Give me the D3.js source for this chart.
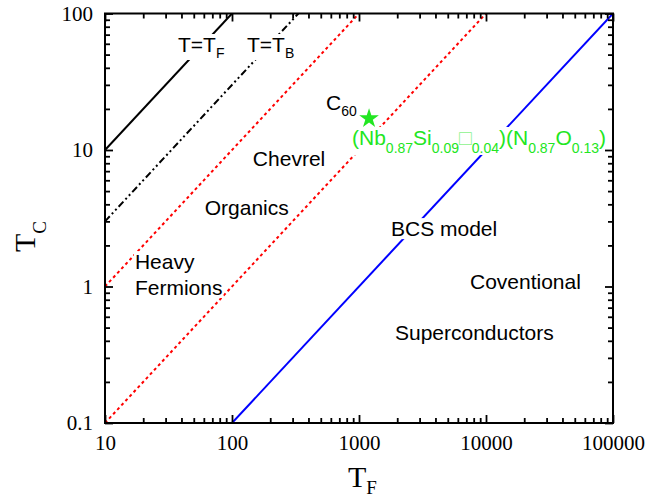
<!DOCTYPE html>
<html>
<head>
<meta charset="utf-8">
<script src="https://cdn.jsdelivr.net/npm/d3@7"></script>
<style>
  body { margin: 0; background: #fff; }
  .tick text { font-family: "Liberation Serif", serif; font-size: 21px; fill: #000; }
  .ann { font-family: "Liberation Sans", Arial, sans-serif; font-size: 21px; fill: #000; }
</style>
</head>
<body>
<div id="chart"></div>
<script>
// axis ranges and ticks
var xDomain = [10, 100000];
var yDomain = [0.1, 100];
var xMajor = [10, 100, 1000, 10000, 100000];
var yMajor = [0.1, 1, 10, 100];

// boundary lines, [T_F, T_C] end points
var fermiLine = [[10, 10], [100, 100]];
var boseLine = [[10, 3], [333.3, 100]];
var redLine1 = [[10, 1], [1000, 100]];
var redLine2 = [[10, 0.1], [10000, 100]];
var bcsLine = [[100, 0.1], [100000, 100]];

// the marked compound
var starPoint = [1200, 17];

// region labels: text, T_F, T_C (baseline anchor)
var regionLabels = [
  ["Chevrel", 146, 7.6],
  ["Organics", 61, 3.34],
  ["BCS model", 1786, 2.34],
  ["Heavy", 17.2, 1.34],
  ["Fermions", 17.2, 0.866],
  ["Coventional", 7480, 0.96],
  ["Superconductors", 1920, 0.405]
];

var width = 661, height = 498;
var mLeft = 105, mRight = 613, mTop = 13.5, mBottom = 423;

var svg = d3.select("#chart").append("svg")
    .attr("width", width)
    .attr("height", height);

var x = d3.scaleLog().domain(xDomain).range([mLeft, mRight]);
var y = d3.scaleLog().domain(yDomain).range([mBottom, mTop]);

function minors(dom) {
  var out = [];
  for (var d = dom[0]; d < dom[1]; d *= 10) {
    for (var k = 2; k <= 9; k++) out.push(d * k);
  }
  return out;
}

svg.append("clipPath").attr("id", "clip")
  .append("rect")
  .attr("x", mLeft).attr("y", mTop)
  .attr("width", mRight - mLeft).attr("height", mBottom - mTop);

var line = d3.line()
    .x(function(d) { return x(d[0]); })
    .y(function(d) { return y(d[1]); });

var plot = svg.append("g").attr("clip-path", "url(#clip)");

plot.append("path").datum(fermiLine).attr("d", line)
    .attr("fill", "none").attr("stroke", "#000").attr("stroke-width", 2);
plot.append("path").datum(boseLine).attr("d", line)
    .attr("fill", "none").attr("stroke", "#000").attr("stroke-width", 2)
    .attr("stroke-dasharray", "7,3,2,3,2,3");
plot.append("path").datum(redLine1).attr("d", line)
    .attr("fill", "none").attr("stroke", "#ff0000").attr("stroke-width", 2)
    .attr("stroke-dasharray", "3,3");
plot.append("path").datum(redLine2).attr("d", line)
    .attr("fill", "none").attr("stroke", "#ff0000").attr("stroke-width", 2)
    .attr("stroke-dasharray", "3,3");
plot.append("path").datum(bcsLine).attr("d", line)
    .attr("fill", "none").attr("stroke", "#0000ff").attr("stroke-width", 2);

// labels sit on white boxes that knock the lines out
var bgLayer = svg.append("g");
var labelLayer = svg.append("g");

function knockout(t) {
  var b = t.node().getBBox();
  bgLayer.append("rect")
    .attr("x", b.x - 1).attr("y", b.y + 1)
    .attr("width", b.width + 2).attr("height", b.height - 2)
    .attr("fill", "#fff");
}

function subLabel(px, py, main, sub) {
  var t = labelLayer.append("text").attr("class", "ann").attr("x", px).attr("y", py);
  t.append("tspan").text(main);
  t.append("tspan").attr("dy", 6).style("font-size", "14px").text(sub);
  knockout(t);
  return t;
}
subLabel(178, 52, "T=T", "F");
subLabel(247, 52, "T=T", "B");
subLabel(326, 110, "C", "60");

labelLayer.selectAll(".region").data(regionLabels).enter()
  .append("text")
  .attr("class", "ann region")
  .attr("x", function(d) { return x(d[1]); })
  .attr("y", function(d) { return y(d[2]); })
  .text(function(d) { return d[0]; })
  .each(function() { knockout(d3.select(this)); });

// star + formula
var green = "#22e622";
labelLayer.append("path")
  .attr("d", d3.symbol(d3.symbolStar).size(120)())
  .attr("transform", "translate(" + x(starPoint[0]) + "," + y(starPoint[1]) + ")")
  .attr("fill", green);

var parts = [
  ["(Nb", false], ["0.87", true], ["Si", false], ["0.09", true],
  ["\u25A1", false], ["0.04", true], [")(N", false], ["0.87", true],
  ["O", false], ["0.13", true], [")", false]
];
var ft = labelLayer.append("text").attr("class", "ann")
  .attr("x", 352).attr("y", 145).style("fill", green);
var prevSub = false;
parts.forEach(function(p) {
  var ts = ft.append("tspan").text(p[0]);
  if (p[1] !== prevSub) ts.attr("dy", p[1] ? 8 : -8);
  if (p[1]) ts.style("font-size", "14px");
  if (p[0] === "\u25A1") ts.style("font-weight", "200").style("fill-opacity", 0.55);
  prevSub = p[1];
});
knockout(ft);

// axes, ticks pointing inward on all four sides
function drawAxis(axisFn, pos, scale, values, size, labels) {
  var a = axisFn(scale).tickValues(values).tickSize(-size).tickPadding(12);
  if (!labels) a.tickFormat("");
  else a.tickFormat(function(d) { return String(d); });
  var g = svg.append("g").attr("transform", pos).call(a);
  g.selectAll("line").attr("stroke", "#000").attr("stroke-width", 1.8);
  g.select(".domain").remove();
  return g;
}

var xMinor = minors(xDomain), yMinor = minors(yDomain);

var gx = drawAxis(d3.axisBottom, "translate(0," + mBottom + ")", x, xMajor, 8, true);
gx.selectAll("text").attr("dy", "0.71em").attr("y", 12);
drawAxis(d3.axisBottom, "translate(0," + mBottom + ")", x, xMinor, 5, false);
drawAxis(d3.axisTop, "translate(0," + mTop + ")", x, xMajor, 8, false);
drawAxis(d3.axisTop, "translate(0," + mTop + ")", x, xMinor, 5, false);

var gy = drawAxis(d3.axisLeft, "translate(" + mLeft + ",0)", y, yMajor, 8, true);
gy.selectAll("text").attr("x", -12);
drawAxis(d3.axisLeft, "translate(" + mLeft + ",0)", y, yMinor, 5, false);
drawAxis(d3.axisRight, "translate(" + mRight + ",0)", y, yMajor, 8, false);
drawAxis(d3.axisRight, "translate(" + mRight + ",0)", y, yMinor, 5, false);

svg.append("rect")
  .attr("x", mLeft).attr("y", mTop)
  .attr("width", mRight - mLeft).attr("height", mBottom - mTop)
  .attr("fill", "none").attr("stroke", "#000").attr("stroke-width", 2);

// axis titles
var xt = svg.append("text")
  .attr("x", 348).attr("y", 487)
  .style("font-family", "Liberation Serif, serif").style("font-size", "30px");
xt.append("tspan").text("T");
xt.append("tspan").attr("dy", 7).style("font-size", "19px").text("F");

var yt = svg.append("text")
  .attr("transform", "translate(35,252) rotate(-90)")
  .style("font-family", "Liberation Serif, serif").style("font-size", "30px");
yt.append("tspan").text("T");
yt.append("tspan").attr("dy", 11).style("font-size", "19px").text("C");
</script>
</body>
</html>
